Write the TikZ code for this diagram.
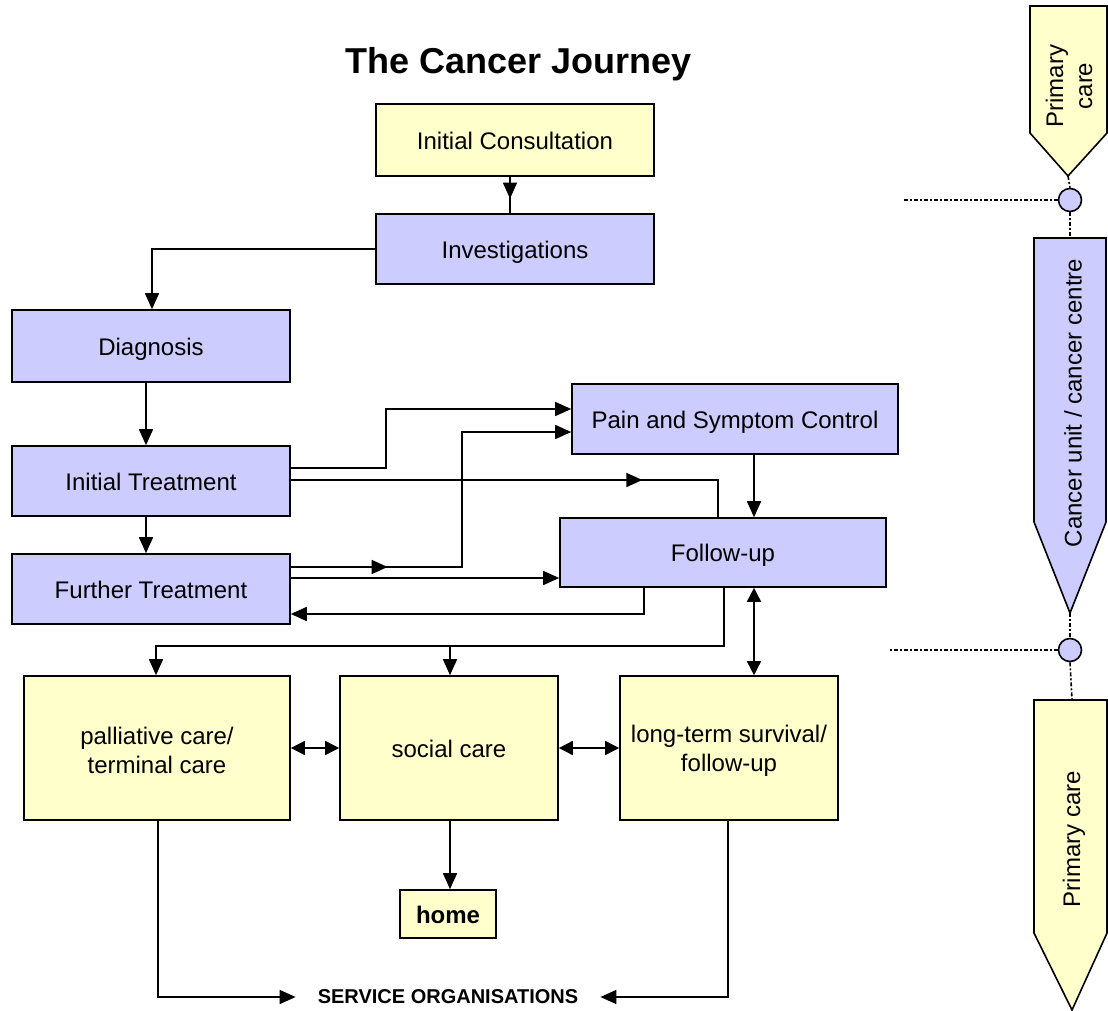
\documentclass[tikz,border=0pt]{standalone}
\usepackage{fontspec}
\setmainfont{Liberation Sans}
\usetikzlibrary{arrows.meta,decorations.markings,calc}
\definecolor{cyel}{HTML}{FFFFCC}
\definecolor{cblu}{HTML}{CCCCFF}
\begin{document}
\begin{tikzpicture}[x=1pt,y=-1pt,
  every node/.style={font=\fontsize{24}{29}\selectfont},
  box/.style={draw, line width=1.6pt, inner sep=0pt, align=center},
  yel/.style={box, fill=cyel},
  blu/.style={box, fill=cblu},
  oneline/.style={text height=23.5pt, text depth=5pt},
  twoline/.style={text height=52pt},
  conn/.style={line width=1.6pt},
  arr/.style={conn, -{Triangle[length=16pt,width=14pt]}},
  dbl/.style={conn, {Triangle[length=14pt,width=14pt]}-{Triangle[length=14pt,width=14pt]}},
  midarr/.style={conn, postaction={decorate}, decoration={markings, mark=at position #1 with {\arrow{Triangle[length=16pt,width=14pt]}}}},
  dotl/.style={line width=2.8pt, dash pattern=on 4pt off 2pt on 2pt off 2pt},
  pent/.style={line width=1.6pt, line join=miter},
]
\useasboundingbox (0,0) rectangle (1108,1011);

% title
\node[font=\fontsize{36}{40}\selectfont\bfseries] (title) at (519,64) {The Cancer Journey};

% boxes
\node[yel, oneline, minimum width=278pt, minimum height=72pt] (ic) at (515,140) {Initial Consultation};
\node[blu, oneline, minimum width=278pt, minimum height=70pt] (inv) at (515,249) {Investigations};
\node[blu, oneline, minimum width=278pt, minimum height=72pt] (diag) at (151,346) {Diagnosis};
\node[blu, oneline, minimum width=278pt, minimum height=70pt] (it) at (151,481) {Initial Treatment};
\node[blu, oneline, minimum width=278pt, minimum height=70pt] (ft) at (151,589) {Further Treatment};
\node[blu, oneline, minimum width=326pt, minimum height=70pt] (pain) at (735,419) {Pain and Symptom Control};
\node[blu, oneline, minimum width=326pt, minimum height=69pt] (fu) at (723,552.5) {Follow-up};
\node[yel, twoline, minimum width=266pt, minimum height=144pt] (pal) at (157,748) {palliative care/\\terminal care};
\node[yel, oneline, minimum width=218pt, minimum height=144pt] (soc) at (449,748) {social care};
\node[yel, twoline, minimum width=218pt, minimum height=144pt] (lt) at (729,748) {long-term survival/\\follow-up};
\node[yel, oneline, minimum width=96pt, minimum height=48pt, font=\fontsize{24}{29}\selectfont\bfseries] (home) at (448,914) {home};
\node[inner xsep=22pt, inner ysep=2pt, font=\fontsize{20}{22}\selectfont\bfseries] (so) at (448,997) {SERVICE ORGANISATIONS};

% connectors
\draw[midarr=0.6] (ic.south -| 510,0) -- (inv.north -| 510,0);
\draw[arr] (inv.west) -| (diag.north -| 152,0);
\draw[arr] (diag.south -| 146,0) -- (it.north -| 146,0);
\draw[arr] (it.south -| 146,0) -- (ft.north -| 146,0);
\draw[arr] (it.east |- 0,468) -| (386,409) -- (pain.west |- 0,409);
\draw[midarr=0.757] (it.east |- 0,480) -| (fu.north -| 718,0);
\draw[arr, midarr=0.233] (ft.east |- 0,567) -| (462,432) -- (pain.west |- 0,432);
\draw[arr] (ft.east |- 0,578) -- (fu.west |- 0,578);
\draw[arr] (fu.south -| 644,0) |- (ft.east |- 0,614);
\draw[arr] (fu.south -| 724,0) |- (156,646) -- (pal.north -| 156,0);
\draw[arr] (450,646) -- (soc.north -| 450,0);
\draw[arr] (pain.south -| 754,0) -- (fu.north -| 754,0);
\draw[dbl] (fu.south -| 754,0) -- (lt.north -| 754,0);
\draw[dbl] (pal.east) -- (soc.west);
\draw[dbl] (soc.east) -- (lt.west);
\draw[arr] (soc.south -| 450,0) -- (home.north -| 450,0);
\draw[arr] (pal.south -| 158,0) |- (so.west);
\draw[arr] (lt.south -| 728,0) |- (so.east);

% right-hand side
\draw[pent, fill=cyel] (1030,6) -- (1107,6) -- (1107,133) -- (1068,176) -- (1030,133) -- cycle;
\coordinate (pc1tip) at (1068,176);
\node[rotate=90, align=center] (pc1t) at (1069,86) {Primary\\care};
\draw[pent, fill=cblu] (1034,238) -- (1106,238) -- (1106,522) -- (1070,613) -- (1034,522) -- cycle;
\coordinate (cutop) at (1070,238);
\coordinate (cutip) at (1070,613);
\node[rotate=90] (cut) at (1073,403) {Cancer unit / cancer centre};
\draw[pent, fill=cyel] (1034,700) -- (1107,700) -- (1107,933) -- (1072,1010) -- (1034,933) -- cycle;
\coordinate (pc2top) at (1072,700);
\node[rotate=90] (pc2t) at (1074,839) {Primary care};

\node[circle, draw, fill=cblu, line width=1.6pt, minimum size=23pt, inner sep=0pt] (c1) at (1070,200) {};
\node[circle, draw, fill=cblu, line width=1.6pt, minimum size=23pt, inner sep=0pt] (c2) at (1070,650) {};
\coordinate (d1) at (902,200);
\coordinate (d2) at (888,650);
\draw[dotl] (c1.west) -- (d1);
\draw[dotl] (c2.west) -- (d2);
\draw[dotl, line width=1.6pt] (pc1tip) -- (c1.north);
\draw[dotl, line width=1.6pt] (c1.south) -- (cutop);
\draw[dotl, line width=1.6pt] (cutip) -- (c2.north);
\draw[dotl, line width=1.6pt] (c2.south) -- (pc2top);
\end{tikzpicture}
\end{document}
